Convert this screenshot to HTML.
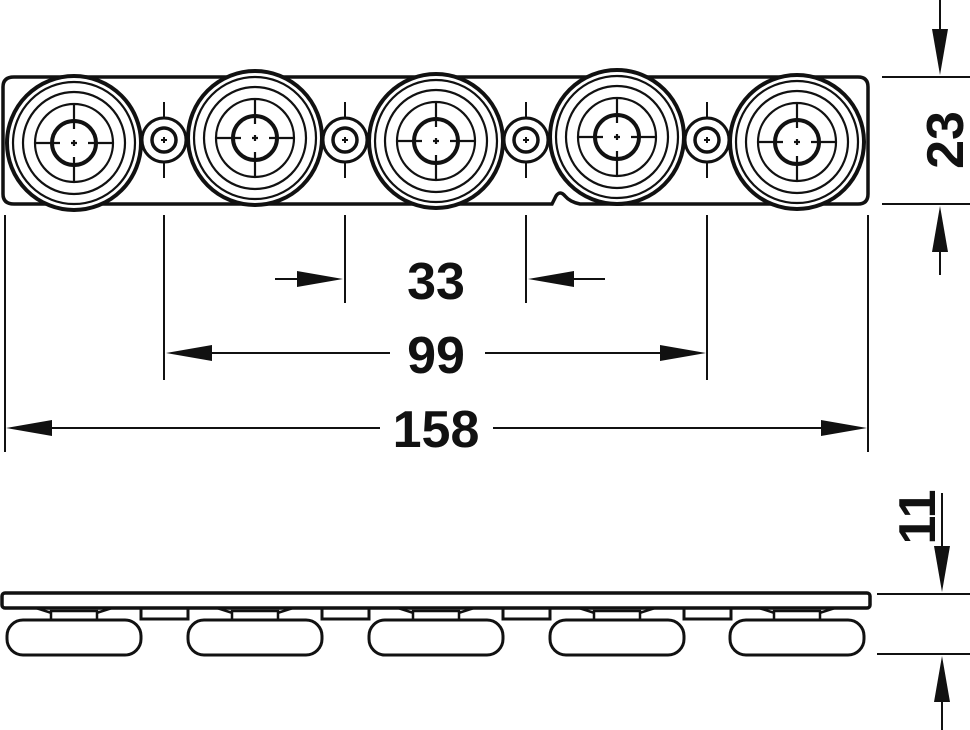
<!DOCTYPE html>
<html><head><style>body{margin:0;background:#fff}svg{display:block}</style></head><body>
<svg width="970" height="730" viewBox="0 0 970 730" xmlns="http://www.w3.org/2000/svg" font-family="Liberation Sans, sans-serif">
<defs>
<g id="wheel" fill="none" stroke="#111">
<circle r="67" fill="#fff" stroke-width="4"/>
<circle r="61" stroke-width="2.2"/>
<circle r="51" stroke-width="2.2"/>
<circle r="39" stroke-width="2.2"/>
<circle r="22" stroke-width="4"/>
<path d="M-38 0H-14M14 0H38M0 -38V-14M0 14V38M-3 0H3M0 -3V3" stroke-width="2.2"/>
</g>
<g id="small" fill="none" stroke="#111">
<circle r="22" fill="#fff" stroke-width="3"/>
<circle r="12" stroke-width="3.5"/>
<path d="M-40 0H-22M22 0H40M0 -38V-22M0 22V38M-3 0H3M0 -3V3" stroke-width="2"/>
</g>
<g id="roll" fill="none" stroke="#111" stroke-width="3">
<path d="M-38 608 L-10 617 H10 L38 608" fill="#fff" stroke-width="2.5"/>
<rect x="-23" y="611" width="46" height="9" fill="#fff" stroke-width="2.5"/>
<rect x="-67" y="620" width="134" height="35" rx="16" fill="#fff"/>
</g>
</defs>
<path d="M14 77 H858 Q868 77 868 87 V194 Q868 204 858 204 H580 Q570 202 565 196 Q560 190 556 196 L552 204 H14 Q3 204 3 194 V87 Q3 77 14 77 Z" fill="#fff" stroke="#111" stroke-width="3.5"/>
<use href="#small" x="164" y="140"/>
<use href="#small" x="345" y="140"/>
<use href="#small" x="526" y="140"/>
<use href="#small" x="707" y="140"/>
<use href="#wheel" x="74" y="143"/>
<use href="#wheel" x="255" y="138"/>
<use href="#wheel" x="436" y="141"/>
<use href="#wheel" x="617" y="137"/>
<use href="#wheel" x="797" y="142"/>
<g stroke="#111" stroke-width="2" fill="none">
<path d="M164 215V380M345 215V303M526 215V303M707 215V380M5 215V452M868 215V452"/>
<path d="M275 279H320M550 279H605M190 353H390M485 353H682M30 428H380M493 428H843"/>
<path d="M882 77H970M882 204H970M940 0V50M940 230V275M877 594H970M877 654H970M942 493V570M942 678V730"/>
</g>
<g fill="#111">
<path d="M343 279L297 271V287Z"/>
<path d="M528 279L574 271V287Z"/>
<path d="M166 353L212 345V361Z"/>
<path d="M706 353L660 345V361Z"/>
<path d="M6 428L52 420V436Z"/>
<path d="M867 428L821 420V436Z"/>
<path d="M940 75L932 29H948Z"/>
<path d="M940 206L932 252H948Z"/>
<path d="M942 592L934 546H950Z"/>
<path d="M942 656L934 702H950Z"/>
</g>
<g font-weight="bold" font-size="52" fill="#111" text-anchor="middle">
<text x="436" y="299">33</text>
<text x="436" y="373">99</text>
<text x="436" y="447">158</text>
<text transform="translate(963 140) rotate(-90)">23</text>
<text transform="translate(935 517) rotate(-90)">11</text>
</g>
<g stroke="#111" stroke-width="3" fill="#fff">
<rect x="141" y="607" width="47" height="12"/>
<rect x="322" y="607" width="47" height="12"/>
<rect x="503" y="607" width="47" height="12"/>
<rect x="684" y="607" width="47" height="12"/>
</g>
<use href="#roll" x="74"/>
<use href="#roll" x="255"/>
<use href="#roll" x="436"/>
<use href="#roll" x="617"/>
<use href="#roll" x="797"/>
<rect x="2" y="593" width="868" height="15" rx="3" fill="#fff" stroke="#111" stroke-width="3.5"/>
</svg>
</body></html>
